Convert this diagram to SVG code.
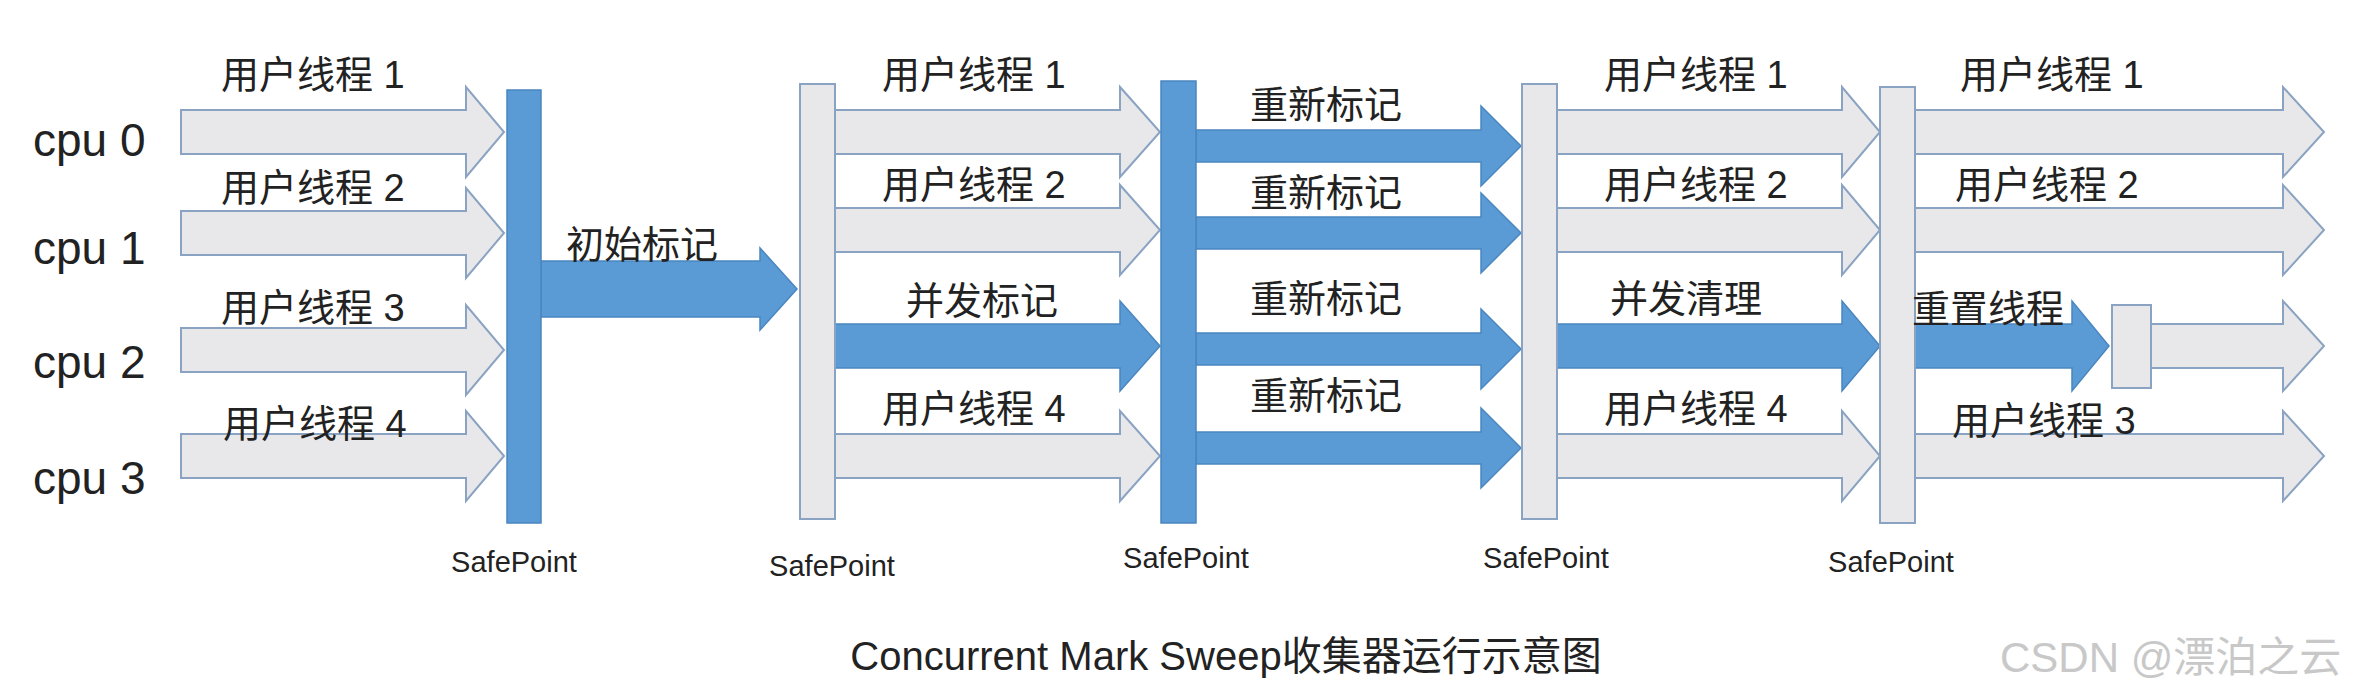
<svg xmlns="http://www.w3.org/2000/svg" width="2358" height="698" viewBox="0 0 2358 698">
<style>
text{font-family:"Liberation Sans","Noto Sans CJK SC",sans-serif;fill:#222}
.cpu{font-size:46px}
.lb{font-size:38px}
.sp{font-size:29px}
.g{fill:#e8e8ea;stroke:#8aa3c2;stroke-width:2}
.b{fill:#5b9bd5;stroke:#4a86c0;stroke-width:1.5}
.bg{fill:#e8e8ea;stroke:#8aa3c2;stroke-width:2}
.bb{fill:#5b9bd5;stroke:#4a86c0;stroke-width:1.5}
</style>
<rect width="2358" height="698" fill="#fff"/>
<g id="cpus">
<text class="cpu" x="33" y="156">cpu 0</text>
<text class="cpu" x="33" y="264">cpu 1</text>
<text class="cpu" x="33" y="378">cpu 2</text>
<text class="cpu" x="33" y="494">cpu 3</text>
</g>
<g id="connectors">
<path class="g" d="M181,110h285v-23l38,45l-38,45v-23h-285z"/>
<path class="g" d="M181,211h285v-23l38,45l-38,45v-23h-285z"/>
<path class="g" d="M181,328h285v-23l38,45l-38,45v-23h-285z"/>
<path class="g" d="M181,434h285v-23l38,45l-38,45v-23h-285z"/>
<path class="b" d="M541,261h219v-13l37,41l-37,41v-13h-219z"/>
<path class="g" d="M835,110h285v-23l40,45l-40,45v-23h-285z"/>
<path class="g" d="M835,208h285v-23l40,45l-40,45v-23h-285z"/>
<path class="b" d="M835,324h285v-23l40,45l-40,45v-23h-285z"/>
<path class="g" d="M835,434h285v-23l40,45l-40,45v-23h-285z"/>
<path class="b" d="M1196,130h285v-24l40,40l-40,40v-24h-285z"/>
<path class="b" d="M1196,217h285v-24l40,40l-40,40v-24h-285z"/>
<path class="b" d="M1196,333h285v-24l40,40l-40,40v-24h-285z"/>
<path class="b" d="M1196,432h285v-24l40,40l-40,40v-24h-285z"/>
<path class="g" d="M1557,110h285v-23l38,45l-38,45v-23h-285z"/>
<path class="g" d="M1557,208h285v-23l38,45l-38,45v-23h-285z"/>
<path class="b" d="M1557,324h285v-23l38,45l-38,45v-23h-285z"/>
<path class="g" d="M1557,434h285v-23l38,45l-38,45v-23h-285z"/>
<path class="g" d="M1915,110h368v-23l41,45l-41,45v-23h-368z"/>
<path class="g" d="M1915,208h368v-23l41,45l-41,45v-23h-368z"/>
<path class="b" d="M1915,324h157v-23l37,45l-37,45v-23h-157z"/>
<path class="g" d="M2151,324h132v-23l41,45l-41,45v-23h-132z"/>
<path class="g" d="M1915,434h368v-23l41,45l-41,45v-23h-368z"/>
</g>
<g id="safepoint1"><rect class="bb" x="507" y="90" width="34" height="433"/><text class="sp" x="514" y="572" text-anchor="middle">SafePoint</text></g>
<g id="safepoint2"><rect class="bg" x="800" y="84" width="35" height="435"/><text class="sp" x="832" y="576" text-anchor="middle">SafePoint</text></g>
<g id="safepoint3"><rect class="bb" x="1161" y="81" width="35" height="442"/><text class="sp" x="1186" y="568" text-anchor="middle">SafePoint</text></g>
<g id="safepoint4"><rect class="bg" x="1522" y="84" width="35" height="435"/><text class="sp" x="1546" y="568" text-anchor="middle">SafePoint</text></g>
<g id="safepoint5"><rect class="bg" x="1880" y="87" width="35" height="436"/><text class="sp" x="1891" y="572" text-anchor="middle">SafePoint</text></g>
<g id="resetbox"><rect class="bg" x="2112" y="305" width="39" height="83"/></g>
<g id="labels">
<text class="lb" x="221" y="88">用户线程 1</text>
<text class="lb" x="221" y="201">用户线程 2</text>
<text class="lb" x="221" y="321">用户线程 3</text>
<text class="lb" x="223" y="437">用户线程 4</text>
<text class="lb" x="566" y="258">初始标记</text>
<text class="lb" x="882" y="88">用户线程 1</text>
<text class="lb" x="882" y="198">用户线程 2</text>
<text class="lb" x="906" y="314">并发标记</text>
<text class="lb" x="882" y="422">用户线程 4</text>
<text class="lb" x="1250" y="118">重新标记</text>
<text class="lb" x="1250" y="206">重新标记</text>
<text class="lb" x="1250" y="312">重新标记</text>
<text class="lb" x="1250" y="409">重新标记</text>
<text class="lb" x="1604" y="88">用户线程 1</text>
<text class="lb" x="1604" y="198">用户线程 2</text>
<text class="lb" x="1610" y="312">并发清理</text>
<text class="lb" x="1604" y="422">用户线程 4</text>
<text class="lb" x="1960" y="88">用户线程 1</text>
<text class="lb" x="1955" y="198">用户线程 2</text>
<text class="lb" x="1912" y="322">重置线程</text>
<text class="lb" x="1952" y="434">用户线程 3</text>
</g>
<text x="1226" y="670" font-size="40" text-anchor="middle">Concurrent Mark Sweep收集器运行示意图</text>
<text x="2000" y="672" font-size="42" style="fill:#c8c8c8">CSDN @漂泊之云</text>
</svg>
